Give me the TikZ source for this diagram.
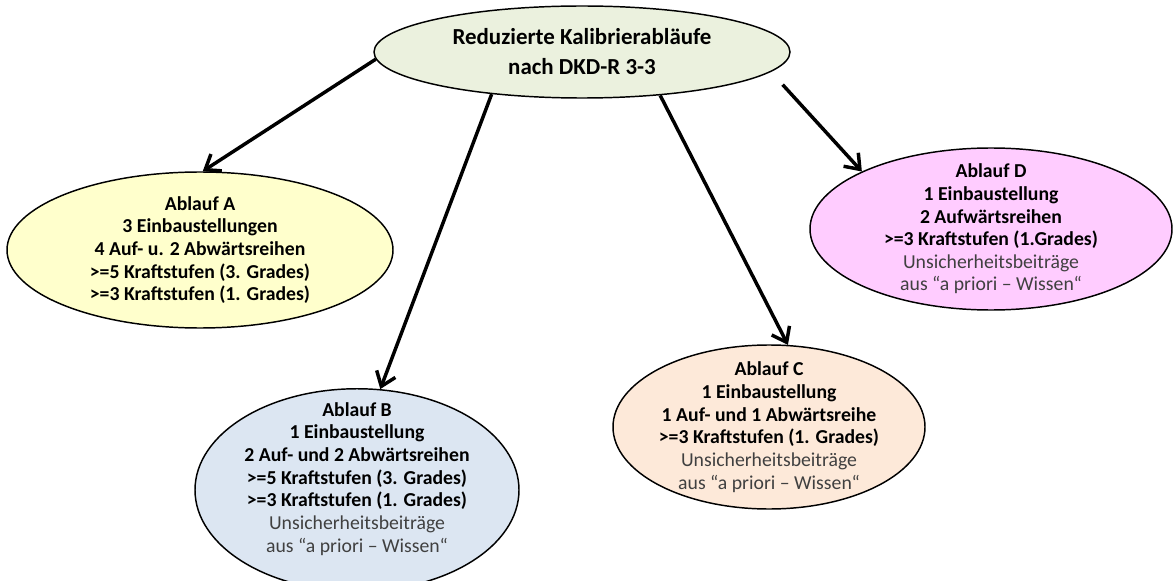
\documentclass[tikz,border=0pt]{standalone}
\usepackage{fontspec}
\setmainfont{Carlito}
\usetikzlibrary{shapes.geometric,arrows.meta}
\definecolor{kopfgruen}{HTML}{EBF1DE}
\definecolor{gelbA}{HTML}{FFFFCC}
\definecolor{blauB}{HTML}{DCE6F2}
\definecolor{lachsC}{HTML}{FDE9D9}
\definecolor{rosaD}{HTML}{FFCCFF}
\definecolor{textgrau}{HTML}{404040}
\newcommand{\grau}[1]{{\mdseries\color{textgrau}#1}}

\begin{document}
\begin{tikzpicture}[x=0.75pt,y=-0.75pt]
\tikzstyle{every node}=[font=\fontsize{14.8}{17}\selectfont\bfseries]
\tikzstyle{ablauf}=[ellipse,draw=black,line width=1.1pt,inner xsep=0pt,inner ysep=-12pt,align=center]
\tikzstyle{pfeil}=[line width=2.6pt,-{Straight Barb[length=10pt,width=15pt]}]
\useasboundingbox (0,0) rectangle (1175,581);

\node[ablauf,fill=kopfgruen,minimum width=312pt,minimum height=69pt,
      font=\fontsize{17.2}{22.5}\selectfont\bfseries] (kalib) at (582,52)
      {Reduzierte Kalibrierabläufe\\nach DKD-R 3-3};

\node[ablauf,fill=gelbA,minimum width=289.5pt,minimum height=117pt] (ablaufA) at (200,250)
      {Ablauf A\\3 Einbaustellungen\\4 Auf- u. 2 Abwärtsreihen\\>=5 Kraftstufen (3. Grades)\\>=3 Kraftstufen (1. Grades)};

\node[ablauf,fill=blauB,minimum width=243pt,minimum height=138pt] (ablaufB) at (357,490)
      {Ablauf B\\1 Einbaustellung\\2 Auf- und 2 Abwärtsreihen\\>=5 Kraftstufen (3. Grades)\\>=3 Kraftstufen (1. Grades)\\
       \grau{Unsicherheitsbeiträge}\\\grau{aus “a priori – Wissen“}\\[2pt]};

\node[ablauf,fill=lachsC,minimum width=234pt,minimum height=123pt] (ablaufC) at (769,427)
      {Ablauf C\\1 Einbaustellung\\1 Auf- und 1 Abwärtsreihe\\>=3 Kraftstufen (1. Grades)\\
       \grau{Unsicherheitsbeiträge}\\\grau{aus “a priori – Wissen“}};

\node[ablauf,fill=rosaD,minimum width=271.5pt,minimum height=121.5pt] (ablaufD) at (991,229)
      {Ablauf D\\1 Einbaustellung\\2 Aufwärtsreihen\\>=3 Kraftstufen (1.Grades)\\
       \grau{Unsicherheitsbeiträge}\\\grau{aus “a priori – Wissen“}};

\draw[pfeil] (kalib.182) -- (ablaufA.88);
\draw[pfeil] (kalib.205) -- (ablaufB.77);
\draw[pfeil] (kalib.331) -- (ablaufC.77);
\draw[pfeil,shorten <=13pt] (kalib.354) -- (ablaufD.156);

\end{tikzpicture}
\end{document}
